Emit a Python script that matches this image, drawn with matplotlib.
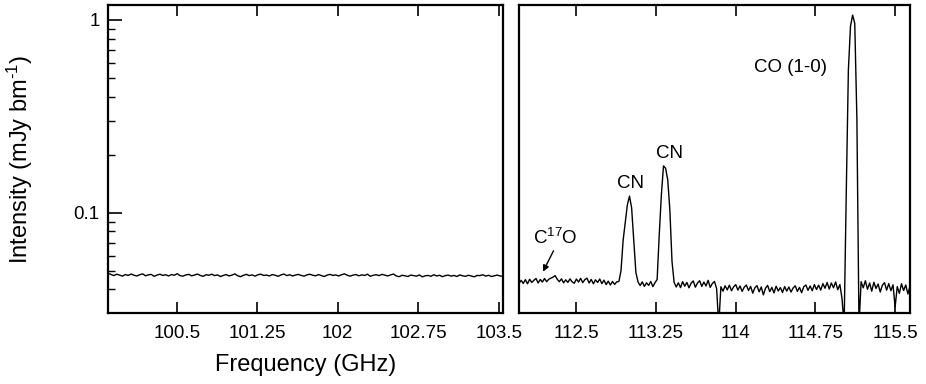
import numpy as np
import matplotlib
matplotlib.use("Agg")
import matplotlib.pyplot as plt
from matplotlib.ticker import LogLocator, NullFormatter, NullLocator

plt.rcParams['font.family'] = ['Liberation Sans', 'DejaVu Sans']
plt.rcParams['mathtext.fontset'] = 'custom'
plt.rcParams['mathtext.rm'] = 'Liberation Sans'
plt.rcParams['mathtext.it'] = 'Liberation Sans:italic'
plt.rcParams['mathtext.bf'] = 'Liberation Sans:bold'

# ---- data (intensity values in units of 1e-3 mJy/beam) ----
left_range = (99.86, 103.54)
left_vals = [
    48.6, 47.9, 47.2, 48.0, 47.5, 46.9, 47.8, 47.3, 48.1, 47.4, 47.0, 47.7, 48.2, 47.1, 47.6, 47.9, 46.8, 47.5, 48.0, 47.3,
    47.7, 47.0, 47.8, 47.4, 48.3, 47.2, 46.9, 47.6, 47.9, 47.1, 47.5, 48.1, 47.3, 46.8, 47.7, 47.4, 48.0, 47.2, 47.6, 46.7,
    47.3, 47.8, 47.0, 47.5, 48.2, 47.1, 46.6, 47.4, 47.9, 47.2, 47.6, 46.9, 47.7, 48.0, 47.3, 47.5, 47.0, 47.8, 47.4, 46.8,
    47.6, 48.1, 47.2, 47.7, 47.0, 47.5, 47.9, 47.3, 46.9, 47.6, 48.0, 47.4, 47.1, 47.8, 47.2, 46.7, 47.5, 47.9, 47.3, 47.6,
    47.0, 47.7, 48.2, 47.4, 46.9, 47.5, 47.8, 47.1, 47.6, 47.3, 48.0, 46.8, 47.4, 47.7, 47.2, 47.9, 47.5, 47.0, 47.6, 48.1,
    47.0, 46.6, 47.4, 47.1, 46.7, 47.5, 47.2, 46.9, 47.6, 46.5, 47.1, 47.3, 46.8, 47.7, 47.0, 47.4, 46.6, 47.2, 47.5, 46.9,
    47.3, 46.7, 47.6, 47.1, 46.8, 47.4, 47.0, 46.5, 47.3, 47.2, 47.7, 46.9, 47.4, 46.7, 47.1, 47.5, 47.0, 46.8,
]

right_range = (111.96, 115.64)
right_vals = [
    43.0, 44.6, 43.0, 45.0, 42.8, 45.2, 43.5, 44.6, 45.6, 43.2,
    45.1, 43.7, 45.6, 43.9, 45.2, 45.8, 46.3, 47.2, 45.2, 43.9,
    45.4, 43.3, 44.9, 43.5, 45.4, 43.8, 43.1, 45.3, 43.7, 45.7,
    43.4, 45.0, 45.8, 43.2, 45.1, 42.8, 44.9, 43.5, 45.3, 42.9,
    44.7, 42.4, 44.2, 42.2, 44.0, 42.5, 43.8, 44.0, 50.0, 72.0,
    89.0, 110.0, 122.0, 106.0, 72.0, 49.0, 43.8, 41.9, 43.8, 41.5,
    43.3, 42.0, 44.0, 41.4, 43.4, 45.0, 77.0, 124.0, 175.0, 170.0,
    148.0, 103.0, 56.0, 43.5, 41.2, 43.3, 40.9, 43.9, 41.6, 43.5,
    40.8, 43.1, 44.3, 41.1, 43.2, 44.4, 41.5, 43.7, 41.7, 44.6,
    41.0, 43.0, 44.0, 40.4, 26.0, 41.3, 39.2, 41.8, 39.8, 42.1,
    39.4, 41.3, 42.4, 39.7, 41.7, 39.1, 41.1, 42.2, 39.5, 41.5,
    38.3, 40.8, 41.9, 38.9, 41.2, 37.5, 40.6, 42.0, 39.0, 41.0,
    38.4, 41.6, 39.3, 40.9, 38.6, 41.4, 39.2, 41.2, 38.8, 40.7,
    41.8, 39.1, 41.0, 38.5, 41.3, 42.2, 39.6, 41.7, 39.4, 42.4,
    40.0, 42.1, 39.7, 42.9, 40.6, 43.5, 40.2, 43.2, 40.8, 43.8,
    39.9, 42.4, 36.0, 26.0, 126.0, 550.0, 930.0, 1060.0, 960.0, 310.0,
    26.0, 43.9, 40.8, 44.4, 40.1, 43.2, 39.2, 43.6, 40.5, 42.7,
    38.8, 42.1, 43.4, 39.7, 42.9, 39.4, 42.3, 32.5, 41.4, 38.2,
    42.8, 39.5, 42.2, 37.9, 41.6,
]

left_ticks = [100.5, 101.25, 102, 102.75, 103.5]
left_ticklabels = ["100.5", "101.25", "102", "102.75", "103.5"]
right_ticks = [112.5, 113.25, 114, 114.75, 115.5]
right_ticklabels = ["112.5", "113.25", "114", "114.75", "115.5"]
ylim = (0.0302, 1.196)

labels = [
    ("CO (1-0)", 114.52, 0.570),
    ("CN", 113.005, 0.1426),
    ("CN", 113.381, 0.204),
]
c17o_label = ("C$^{17}$O", 112.30, 0.074)
c17o_arrow_tail = (112.285, 0.0635)
c17o_arrow_tip = (112.186, 0.0495)

# ---- figure ----
W, H = 926, 384
fig = plt.figure(figsize=(W / 100, H / 100), dpi=100)
axL = fig.add_axes([108 / W, 1 - 313 / H, (503 - 108) / W, (313 - 5) / H])
axR = fig.add_axes([519 / W, 1 - 313 / H, (910 - 519) / W, (313 - 5) / H])

lx = np.linspace(left_range[0], left_range[1], len(left_vals))
rx = np.linspace(right_range[0], right_range[1], len(right_vals))
axL.plot(lx, np.array(left_vals) / 1000.0, color='black', lw=1.0)
axR.plot(rx, np.array(right_vals) / 1000.0, color='black', lw=1.0)

for ax, xl, ticks, tl in [(axL, left_range, left_ticks, left_ticklabels),
                          (axR, right_range, right_ticks, right_ticklabels)]:
    ax.set_yscale('log')
    ax.set_ylim(*ylim)
    ax.set_xlim(*xl)
    ax.set_xticks(ticks)
    ax.set_xticklabels(tl)
    ax.xaxis.set_minor_locator(NullLocator())
    for s in ax.spines.values():
        s.set_linewidth(1.6)
    ax.tick_params(axis='x', which='major', direction='in', length=8, width=1.2,
                   top=True, bottom=True, labelsize=13.5, pad=9, colors='black')

axL.set_yticks([0.1, 1])
axL.set_yticklabels(["0.1", "1"])
axL.yaxis.set_minor_locator(LogLocator(base=10, subs=np.arange(2, 10)))
axL.yaxis.set_minor_formatter(NullFormatter())
axL.tick_params(axis='y', which='major', direction='in', length=10, width=1.2,
                left=True, right=False, labelsize=13.5, pad=6)
axL.tick_params(axis='y', which='minor', direction='in', length=5, width=1.0,
                left=True, right=False)

axR.yaxis.set_major_locator(NullLocator())
axR.yaxis.set_minor_locator(NullLocator())

axL.set_xlabel("Frequency (GHz)", fontsize=17, labelpad=8)
axL.set_ylabel(r"Intensity (mJy bm$^{\text{-}1}$)", fontsize=17, labelpad=28)

for txt, x, y in labels:
    axR.text(x, y, txt, ha='center', va='center', fontsize=13.5)
axR.text(c17o_label[1], c17o_label[2], c17o_label[0], ha='center', va='center', fontsize=13.5)
axR.annotate("", xy=c17o_arrow_tip, xytext=c17o_arrow_tail,
             arrowprops=dict(arrowstyle='-|>', color='black', lw=1.0,
                             mutation_scale=9, shrinkA=0, shrinkB=0))

fig.savefig("out.png", dpi=100)
